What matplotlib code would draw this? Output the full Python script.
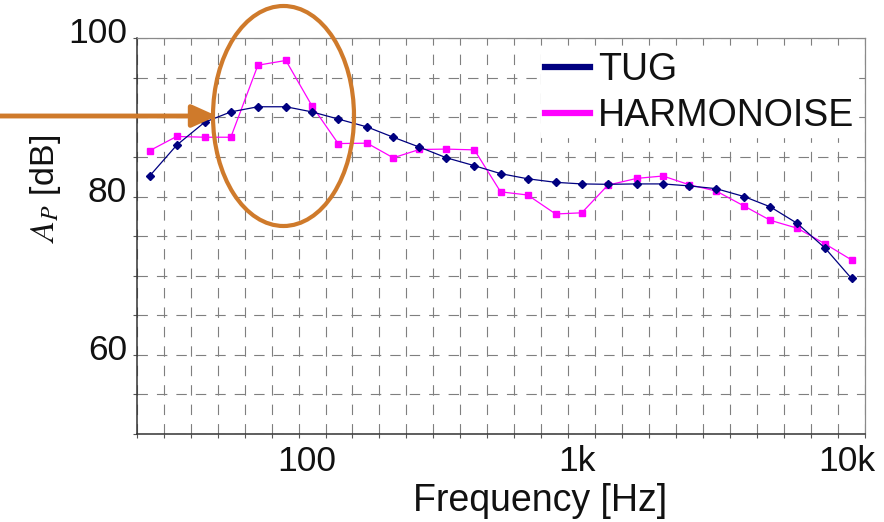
import numpy as np
import matplotlib
matplotlib.use("Agg")
import matplotlib.pyplot as plt
from matplotlib.patches import Ellipse
from matplotlib.transforms import ScaledTranslation

plt.rcParams['font.family'] = ['Liberation Sans', 'DejaVu Sans']
plt.rcParams['mathtext.fontset'] = 'stix'
plt.rcParams['lines.scale_dashes'] = False

# Third-octave band centre frequencies [Hz]
freqs = [25, 31.5, 40, 50, 63, 80, 100, 125, 160, 200, 250, 315, 400, 500,
         630, 800, 1000, 1250, 1600, 2000, 2500, 3150, 4000, 5000, 6300,
         8000, 10000]

tug = [82.6, 86.5, 89.4, 90.7, 91.35, 91.35, 90.7, 89.8, 88.8, 87.5, 86.25,
       84.9, 83.9, 82.9, 82.25, 81.8, 81.6, 81.55, 81.6, 81.6, 81.35, 81.0,
       80.0, 78.7, 76.6, 73.45, 69.65]

harmonoise = [85.8, 87.6, 87.5, 87.5, 96.6, 97.2, 91.45, 86.7, 86.75, 84.9,
              85.95, 86.0, 85.9, 80.6, 80.2, 77.8, 77.95, 81.45, 82.3, 82.6,
              81.5, 80.7, 78.8, 77.0, 76.0, 74.0, 72.0]

x_tick_values = [100, 1000, 10000]
x_tick_labels = ['100', '1k', '10k']
y_ticks = [50, 55, 60, 65, 70, 75, 80, 85, 90, 95, 100]
y_tick_labels = ['', '', '60', '', '', '', '80', '', '', '', '100']

fig = plt.figure(figsize=(8.84, 5.22), dpi=100)
ax = fig.add_axes([136.7 / 884, 1 - 434 / 522, (865 - 136.7) / 884, (434 - 38.3) / 522])

# band edges for the grid
band_idx = np.round(10 * np.log10(freqs))
edges = 10 ** ((np.append(band_idx, band_idx[-1] + 1) - 0.5) / 10)

ax.set_xscale('log')
ax.set_xlim(edges[0], edges[-1])
ax.set_ylim(50, 100)

ax.plot(freqs, tug, color='#000080', lw=0.9, marker='D', ms=3.8,
        label='TUG', zorder=4)
ax.plot(freqs, harmonoise, color='#FF00FF', lw=0.9, marker='s', ms=5.0,
        label='HARMONOISE', zorder=3)

# x ticks
ax.xaxis.set_major_locator(matplotlib.ticker.FixedLocator(x_tick_values))
ax.xaxis.set_major_formatter(matplotlib.ticker.FixedFormatter(x_tick_labels))
ax.xaxis.set_minor_locator(matplotlib.ticker.FixedLocator(edges))
ax.xaxis.set_minor_formatter(matplotlib.ticker.NullFormatter())
ax.tick_params(axis='x', which='major', length=0, labelsize=25.5, pad=8,
               labelcolor='#111111')
ax.tick_params(axis='x', which='minor', length=3, width=0.8, color='#555555',
               direction='out')
for lab in ax.get_xticklabels():
    lab.set_transform(lab.get_transform() + ScaledTranslation(-5 / 100, 0, fig.dpi_scale_trans))

# y ticks
ax.set_yticks(y_ticks)
ax.set_yticklabels(y_tick_labels)
ax.tick_params(axis='y', which='major', length=3, width=0.8, color='#555555',
               labelsize=25.5, pad=4, labelcolor='#111111')
for lab in ax.get_yticklabels():
    lab.set_transform(lab.get_transform() + ScaledTranslation(0, 8 / 100, fig.dpi_scale_trans))

grid_style = dict(color='#7f7f7f', lw=0.8, linestyle=(0, (7.5, 6.5)))
ax.grid(True, axis='x', which='minor', **grid_style)
ax.grid(True, axis='y', which='major', **grid_style)
ax.set_axisbelow(True)

for s in ['top', 'right']:
    ax.spines[s].set_color('#8a8a8a')
    ax.spines[s].set_linewidth(0.9)
for s in ['left', 'bottom']:
    ax.spines[s].set_color('#333333')
    ax.spines[s].set_linewidth(1.1)

ax.set_xlabel('Frequency [Hz]', fontsize=27, color='#111111')
ax.xaxis.set_label_coords((540 - 136.7) / 728.3, -(483 - 434) / 395.7)
ax.set_ylabel(r'$A_P$ [dB]', fontsize=24.5, color='#111111')
ax.yaxis.set_label_coords((63 - 136.7) / 728.3, 1 - (189 - 38.3) / 395.7)

leg = ax.legend(loc='upper right', bbox_to_anchor=(0.99, 0.975), borderaxespad=0,
                fontsize=27, frameon=True, fancybox=False, framealpha=1,
                facecolor='white', edgecolor='white', handlelength=1.2,
                handletextpad=0.2, labelspacing=0.26, borderpad=0.1)
for h in leg.get_lines():
    h.set_linewidth(4.5)
    h.set_marker('')
for t in leg.get_texts():
    t.set_color('#111111')

# orange annotation: ellipse and arrow
orange = '#CF7A2B'
ell = Ellipse((283.5 / 884, 1 - 116 / 522), 141 / 884, 220 / 522,
              transform=fig.transFigure, fill=False, edgecolor=orange, lw=3,
              zorder=10)
fig.add_artist(ell)
fig.add_artist(matplotlib.patches.FancyArrowPatch(
    (0, 522 - 116), (217, 522 - 116), transform=None,
    arrowstyle='-|>,head_length=1.0,head_width=0.45', mutation_scale=15,
    color=orange, lw=3.5, shrinkA=0, shrinkB=0, zorder=10))

fig.savefig('out.png', dpi=100)
